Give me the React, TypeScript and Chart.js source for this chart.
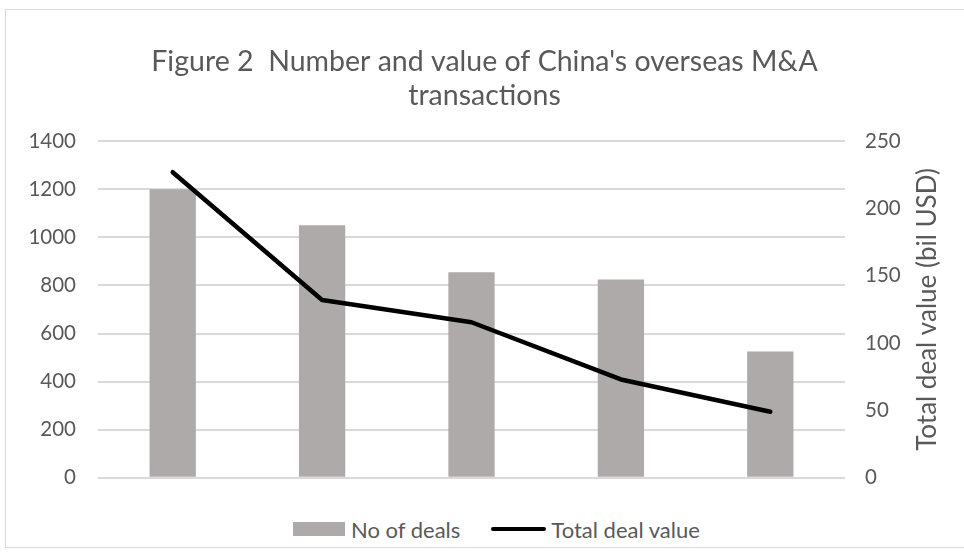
import React, { useEffect, useRef } from "react";
import { Chart, registerables } from "chart.js";

Chart.register(...registerables);

const categories = ["1", "2", "3", "4", "5"];
const dealCounts = [1200, 1050, 855, 825, 525];
const dealValues = [227, 132, 115.5, 73, 49];
const leftTicks = [0, 200, 400, 600, 800, 1000, 1200, 1400];
const rightTicks = [0, 50, 100, 150, 200, 250];
const titleLines = ["Figure 2  Number and value of China's overseas M&A", "transactions"];
const rightAxisTitle = "Total deal value (bil USD)";
const seriesNames = ["No of deals", "Total deal value"];

const FONT = "Lato";
const TEXT = "#595959";
const GRID = "#D9D9D9";
const BAR = "#AEAAAA";

export default function App() {
  const ref = useRef<HTMLCanvasElement | null>(null);

  useEffect(() => {
    const canvas = ref.current;
    if (!canvas) return;
    const rightTitlePlugin = {
      id: "rightTitle",
      afterDraw(chart: any) {
        const { ctx, chartArea } = chart;
        ctx.save();
        ctx.fillStyle = TEXT;
        ctx.font = `26px ${FONT}`;
        ctx.textAlign = "center";
        ctx.textBaseline = "middle";
        ctx.translate(923, (chartArea.top + chartArea.bottom) / 2);
        ctx.rotate(-Math.PI / 2);
        ctx.fillText(rightAxisTitle, 0, 0);
        ctx.restore();
      },
    };
    const chart = new Chart(canvas, {
      type: "bar",
      data: {
        labels: categories,
        datasets: [
          {
            type: "bar",
            label: seriesNames[0],
            data: dealCounts,
            backgroundColor: BAR,
            yAxisID: "y",
            barPercentage: 0.31,
            categoryPercentage: 1,
            order: 2,
          },
          {
            type: "line",
            label: seriesNames[1],
            data: dealValues,
            borderColor: "#000000",
            backgroundColor: "#000000",
            borderWidth: 4.5,
            pointRadius: 0,
            tension: 0,
            borderCapStyle: "round",
            borderJoinStyle: "round",
            yAxisID: "y1",
            order: 1,
          } as any,
        ],
      },
      options: {
        responsive: false,
        animation: false,
        devicePixelRatio: 1,
        layout: { padding: 0 },
        plugins: {
          legend: { display: false },
          tooltip: { enabled: false },
          title: {
            display: true,
            text: titleLines,
            color: TEXT,
            font: { family: FONT, size: 28.5, weight: "normal", lineHeight: 1.18 },
            padding: { top: 36, bottom: 29 },
          },
        },
        scales: {
          x: {
            ticks: { display: false },
            grid: { display: false },
            border: { display: false },
            afterFit: (s: any) => {
              s.height = 21;
            },
          },
          y: {
            position: "left",
            min: 0,
            max: 1400,
            afterBuildTicks: (s: any) => {
              s.ticks = leftTicks.map((v) => ({ value: v }));
            },
            ticks: {
              color: TEXT,
              font: { family: FONT, size: 20.5 },
              padding: 22,
              callback: (v: any) => String(v),
            },
            grid: { color: GRID, lineWidth: 2, drawTicks: false },
            border: { display: false },
            afterFit: (s: any) => {
              s.width = 93;
            },
          },
          y1: {
            position: "right",
            min: 0,
            max: 250,
            afterBuildTicks: (s: any) => {
              s.ticks = rightTicks.map((v) => ({ value: v }));
            },
            ticks: {
              color: TEXT,
              font: { family: FONT, size: 20.5 },
              padding: 20,
              callback: (v: any) => String(v),
            },
            grid: { drawOnChartArea: false, drawTicks: false, display: false },
            border: { display: false },
            afterFit: (s: any) => {
              s.width = 119;
            },
          },
        },
      } as any,
      plugins: [rightTitlePlugin],
    });
    return () => chart.destroy();
  }, []);

  return (
    <div style={{ position: "fixed", left: 0, top: 0, width: 964, height: 559, background: "#fff", overflow: "hidden" }}>
      <div
        style={{
          position: "absolute",
          left: 5,
          top: 9,
          width: 990,
          height: 539,
          border: `1px solid ${GRID}`,
          boxSizing: "border-box",
        }}
      />
      <canvas
        ref={ref}
        width={959}
        height={503}
        style={{ position: "absolute", left: 5, top: 9, width: 959, height: 503 }}
      />
      <div
        style={{
          position: "absolute",
          left: 293,
          top: 515,
          height: 28,
          display: "flex",
          alignItems: "center",
          fontFamily: FONT,
          fontSize: 22,
          color: TEXT,
          whiteSpace: "nowrap",
        }}
      >
        <span style={{ display: "inline-block", width: 52, height: 14, background: BAR, marginRight: 6 }} />
        <span>{seriesNames[0]}</span>
        <span
          style={{
            display: "inline-block",
            width: 55,
            height: 4,
            background: "#000",
            borderRadius: 2,
            marginLeft: 31,
            marginRight: 5,
          }}
        />
        <span>{seriesNames[1]}</span>
      </div>
    </div>
  );
}
